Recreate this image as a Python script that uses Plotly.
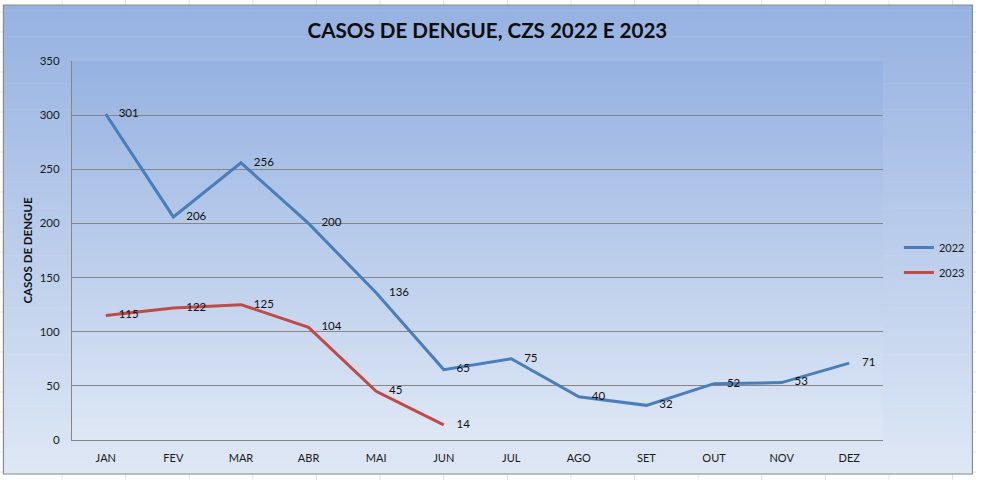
import numpy as np
import plotly.graph_objects as go

months = ["JAN", "FEV", "MAR", "ABR", "MAI", "JUN", "JUL", "AGO", "SET", "OUT", "NOV", "DEZ"]
casos_2022 = [301, 206, 256, 200, 136, 65, 75, 40, 32, 52, 53, 71]
casos_2023 = [115, 122, 125, 104, 45, 14]
y_ticks = [0, 50, 100, 150, 200, 250, 300, 350]

W, H = 982, 480
L, R, T, B = 72, 94, 61, 40
PW, PH = W - L - R, H - T - B


def px_x(x):
    return (x - L) / PW


def px_y(y):
    return (H - B - y) / PH


def gradient(x0, y0, x1, y1, top, bottom, n=90):
    # horizontal bands to fake the excel gradient fill
    top = np.array(top, float)
    bottom = np.array(bottom, float)
    edges = np.linspace(y0, y1, n + 1)
    out = []
    for i in range(n):
        c = top + (bottom - top) * (i / (n - 1))
        out.append(dict(
            type="rect", xref="paper", yref="paper", layer="below",
            x0=px_x(x0), x1=px_x(x1), y0=px_y(edges[i]), y1=px_y(edges[i + 1] + 0.6),
            line=dict(width=0),
            fillcolor="rgb(%d,%d,%d)" % tuple(c.round()),
        ))
    return out


top_col = (150, 178, 225)
bot_col = (222, 231, 245)

shapes = []
# spreadsheet cells behind the chart
for cx in range(-2, W, 64):
    shapes.append(dict(type="line", xref="paper", yref="paper", layer="below",
                       x0=px_x(cx), x1=px_x(cx), y0=px_y(0), y1=px_y(H),
                       line=dict(color="#e3e3e3", width=1)))
for cy in range(12, H, 20):
    shapes.append(dict(type="line", xref="paper", yref="paper", layer="below",
                       x0=px_x(0), x1=px_x(W), y0=px_y(cy), y1=px_y(cy),
                       line=dict(color="#e3e3e3", width=1)))

shapes += gradient(3, 5, 978, 474, top_col, bot_col)
shapes.append(dict(type="rect", xref="paper", yref="paper", layer="below",
                   x0=px_x(3), x1=px_x(978), y0=px_y(5), y1=px_y(474),
                   line=dict(color="#8c8c8c", width=1.2)))
shapes += gradient(L, T, L + PW, T + PH, top_col, bot_col)

label_font = dict(family="Lato, Arial", size=11.5, color="#111111")

fig = go.Figure()

fig.add_trace(go.Scatter(
    x=months, y=casos_2022, name="2022", legendgroup="a",
    mode="lines+markers+text",
    line=dict(color="#4a7ebb", width=3),
    marker=dict(size=19, color="rgba(0,0,0,0)"),
    text=[str(v) for v in casos_2022],
    textposition="middle right",
    textfont=label_font,
    cliponaxis=False,
))
fig.add_trace(go.Scatter(
    x=months[:len(casos_2023)], y=casos_2023, name="2023", legendgroup="b",
    mode="lines+markers+text",
    line=dict(color="#be4b48", width=3),
    marker=dict(size=19, color="rgba(0,0,0,0)"),
    text=[str(v) for v in casos_2023],
    textposition="middle right",
    textfont=label_font,
    cliponaxis=False,
))

fig.update_layout(
    width=W, height=H,
    margin=dict(l=L, r=R, t=T, b=B),
    paper_bgcolor="white",
    plot_bgcolor="rgba(0,0,0,0)",
    shapes=shapes,
    title=dict(
        text="<b>CASOS DE DENGUE, CZS 2022 E 2023</b>",
        x=px_x(490), xref="paper", xanchor="center",
        y=1 - 31 / H, yanchor="middle", yref="container",
        font=dict(family="Lato, Arial", size=20.6, color="#0d0d0d"),
    ),
    font=dict(family="Lato, Arial", size=11, color="#1a1a1a"),
    showlegend=True,
    legend=dict(
        x=px_x(904), xanchor="left",
        y=px_y(233), yanchor="top",
        bgcolor="rgba(0,0,0,0)",
        font=dict(family="Lato, Arial", size=11, color="#1a1a1a"),
        itemwidth=30,
        tracegroupgap=6,
    ),
)

fig.update_xaxes(
    type="category", categoryorder="array", categoryarray=months,
    range=[-0.5, len(months) - 0.5],
    showgrid=False, showline=True, linecolor="#868686", linewidth=1,
    ticks="", ticklabelstandoff=8,
    tickfont=dict(family="Lato, Arial", size=11, color="#1a1a1a"),
    fixedrange=True,
)
fig.update_yaxes(
    range=[0, 350], tickvals=y_ticks,
    showgrid=True, gridcolor="#868686", gridwidth=1,
    showline=True, linecolor="#868686", linewidth=1,
    zeroline=False, ticks="", ticklabelstandoff=9,
    tickfont=dict(family="Lato, Arial", size=11.5, color="#1a1a1a"),
    title=dict(text="<b>CASOS DE DENGUE</b>", standoff=4,
               font=dict(family="Lato, Arial", size=11.5, color="#111111")),
    fixedrange=True,
)

fig.write_html("out.html", config={"displayModeBar": False},
               post_script="document.body.style.margin='0';")
